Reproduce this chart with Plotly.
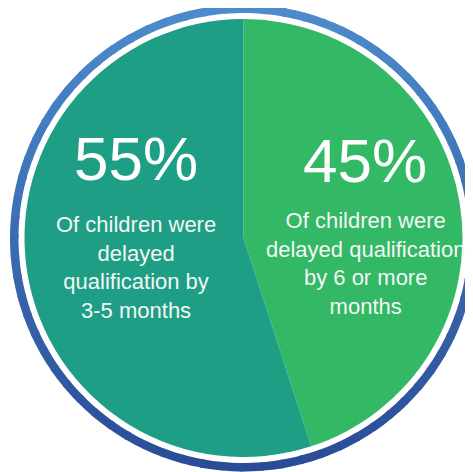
import math
import plotly.graph_objects as go

# Data
labels = ["Delayed by 6 or more months", "Delayed by 3-5 months"]
values = [45, 55]
colors = ["#33b866", "#1f9e86"]
big_labels = ["45%", "55%"]
captions = [
    "Of children were<br>delayed qualification<br>by 6 or more<br>months",
    "Of children were<br>delayed<br>qualification by<br>3-5 months",
]

W, H = 473, 472
OFF = 8.0  # page body margin offset
cx, cy = 243.5 - OFF, 238.0 - OFF
R_pie = 219.0
R_in, R_out = 225.0, 233.5


def fx(px):
    return px / W


def fy(py):
    return 1 - py / H


fig = go.Figure()
fig.add_trace(go.Pie(
    labels=labels,
    values=values,
    sort=False,
    direction="clockwise",
    rotation=0,
    marker=dict(colors=colors, line=dict(width=0)),
    textinfo="none",
    hoverinfo="label+percent",
    showlegend=False,
    domain=dict(x=[fx(cx - R_pie), fx(cx + R_pie)],
                y=[fy(cy + R_pie), fy(cy - R_pie)]),
))

# Outer gradient ring (decorative)
def lerp(c1, c2, t):
    return "#%02x%02x%02x" % tuple(int(round(a + (b - a) * t)) for a, b in zip(c1, c2))

top_c = (0x4c, 0x8b, 0xcc)
bot_c = (0x2a, 0x4c, 0x97)
N = 72
shapes = []
for i in range(N):
    a0 = 2 * math.pi * i / N
    a1 = 2 * math.pi * (i + 1.15) / N
    pts_out = []
    pts_in = []
    steps = 4
    for k in range(steps + 1):
        a = a0 + (a1 - a0) * k / steps
        pts_out.append((cx + R_out * math.sin(a), cy - R_out * math.cos(a)))
        pts_in.append((cx + R_in * math.sin(a), cy - R_in * math.cos(a)))
    pts = pts_out + pts_in[::-1]
    path = "M " + " L ".join("%.5f,%.5f" % (fx(x), fy(y)) for x, y in pts) + " Z"
    amid = (a0 + a1) / 2
    t = (1 - math.cos(amid)) / 2
    col = lerp(top_c, bot_c, t)
    shapes.append(dict(type="path", xref="paper", yref="paper", path=path,
                       fillcolor=col, line=dict(width=0), layer="above"))

annotations = []
big_pos = [(365 - OFF, 160 - OFF), (136 - OFF, 158 - OFF)]
cap_pos = [(365 - OFF, 263 - OFF), (136 - OFF, 267 - OFF)]
for i in range(2):
    annotations.append(dict(
        x=fx(big_pos[i][0]), y=fy(big_pos[i][1]), xref="paper", yref="paper",
        text=big_labels[i], showarrow=False, xanchor="center", yanchor="middle",
        font=dict(family="Liberation Sans, Arial, sans-serif", size=62, color="white")))
    annotations.append(dict(
        x=fx(cap_pos[i][0]), y=fy(cap_pos[i][1]), xref="paper", yref="paper",
        text=captions[i], showarrow=False, xanchor="center", yanchor="middle",
        align="center",
        font=dict(family="Liberation Sans, Arial, sans-serif", size=22, color="#f2f7f4")))

fig.update_layout(
    width=W, height=H,
    margin=dict(l=0, r=0, t=0, b=0),
    paper_bgcolor="white",
    plot_bgcolor="white",
    shapes=shapes,
    annotations=annotations,
)

fig.write_html("out.html")
